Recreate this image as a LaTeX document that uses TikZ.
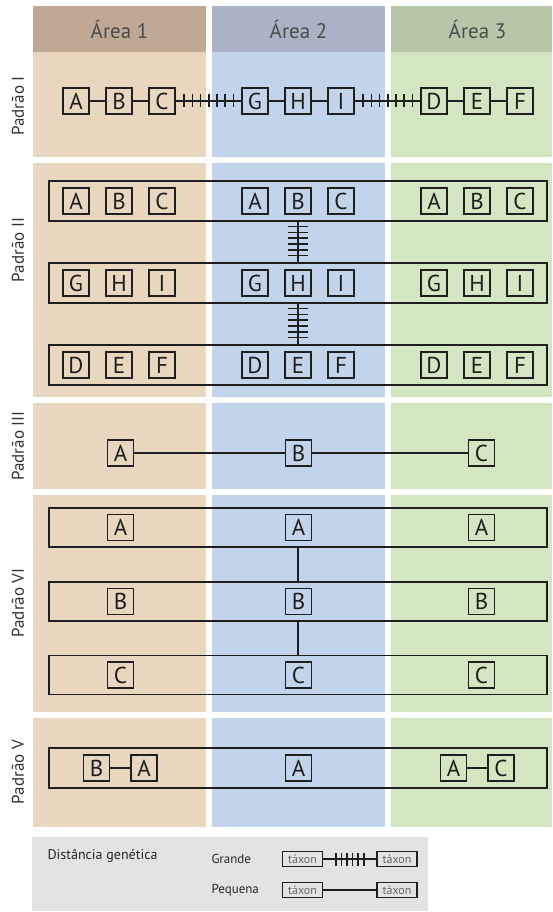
\documentclass[tikz,border=0pt]{standalone}
\usepackage{fontspec}
\setmainfont{PT Sans}
\usetikzlibrary{positioning,decorations.markings}

\definecolor{cab1}{HTML}{BFA994}
\definecolor{cab2}{HTML}{A9B3C5}
\definecolor{cab3}{HTML}{B5C6A9}
\definecolor{area1}{HTML}{E8D6BE}
\definecolor{area2}{HTML}{C2D4E9}
\definecolor{area3}{HTML}{D3E6C2}
\definecolor{legenda}{HTML}{E3E3E3}
\definecolor{tinta}{HTML}{1E1E1E}

\begin{document}
\begin{tikzpicture}[x=1pt, y=-1pt, node distance=43pt,
  taxon/.style={rectangle, draw=tinta, line width=1.2pt, minimum size=26pt, inner sep=0pt, text=tinta, font=\fontsize{23}{23}\selectfont},
  faixa/.style={rectangle, draw=tinta, line width=1.2pt, minimum width=498pt, minimum height=40pt},
  cabecalho/.style={rectangle, minimum width=173pt, minimum height=46pt, text=black!70, font=\fontsize{21}{21}\selectfont},
  padrao/.style={rotate=90, text=black!80, font=\fontsize{17}{17}\selectfont},
  liga/.style={draw=tinta, line width=1.2pt},
  marcas/.style={postaction={decorate, decoration={markings, mark=between positions #1 with {\draw[tinta, line width=1.6pt] (0,-6.5) -- (0,6.5);}}}},
  marcaslongas/.style={postaction={decorate, decoration={markings, mark=between positions #1 with {\draw[tinta, line width=1.6pt] (0,-10) -- (0,10);}}}},
  rotulo/.style={anchor=west, text=black!85, font=\fontsize{13}{13}\selectfont},
  taxonleg/.style={rectangle, draw=tinta, line width=1.1pt, minimum width=40pt, minimum height=15pt, inner sep=0pt, text=black!60, font=\fontsize{12}{12}\selectfont}]
\useasboundingbox (0,0) rectangle (552,912);
\clip (0,0) rectangle (552,912);

% Fundo - áreas
\fill[area1] (33,52) rectangle (206,827);
\fill[area2] (212,52) rectangle (385,827);
\fill[area3] (391,52) rectangle (552,827);
\fill[white] (0,157) rectangle (552,163);
\fill[white] (0,397) rectangle (552,403);
\fill[white] (0,489) rectangle (552,495);
\fill[white] (0,712) rectangle (552,718);

% Cabeçalhos
\node (area1) [cabecalho, fill=cab1] at (119.5,29) {Área 1};
\node (area2) [cabecalho, fill=cab2] at (298.5,29) {Área 2};
\node (area3) [cabecalho, fill=cab3] at (477.5,29) {Área 3};

% Padrão I
\node (lbl1) [padrao] at (18,106) {Padrão I};
\node (p1a) [taxon] at (76,101) {A};
\node (p1b) [taxon, right of=p1a] {B};
\node (p1c) [taxon, right of=p1b] {C};
\node (p1g) [taxon, right of=p1c, xshift=50pt] {G};
\node (p1h) [taxon, right of=p1g] {H};
\node (p1i) [taxon, right of=p1h] {I};
\node (p1d) [taxon, right of=p1i, xshift=50pt] {D};
\node (p1e) [taxon, right of=p1d] {E};
\node (p1f) [taxon, right of=p1e] {F};

\draw[liga] (p1a) -- (p1b);
\draw[liga] (p1b) -- (p1c);
\draw[liga, marcas={0.13 and 0.88 step 0.125}] (p1c) -- (p1g);
\draw[liga] (p1g) -- (p1h);
\draw[liga] (p1h) -- (p1i);
\draw[liga, marcas={0.13 and 0.88 step 0.125}] (p1i) -- (p1d);
\draw[liga] (p1d) -- (p1e);
\draw[liga] (p1e) -- (p1f);

% Padrão II
\node (lbl2) [padrao] at (18,250) {Padrão II};
\node (f2abc) [faixa] at (298,201) {};
\node (f2ghi) [faixa] at (298,283) {};
\node (f2def) [faixa] at (298,365) {};

\node (p2a1) [taxon] at (76,201) {A};
\node (p2b1) [taxon, right of=p2a1] {B};
\node (p2c1) [taxon, right of=p2b1] {C};
\node (p2a2) [taxon, right of=p2c1, xshift=50pt] {A};
\node (p2b2) [taxon, right of=p2a2] {B};
\node (p2c2) [taxon, right of=p2b2] {C};
\node (p2a3) [taxon, right of=p2c2, xshift=50pt] {A};
\node (p2b3) [taxon, right of=p2a3] {B};
\node (p2c3) [taxon, right of=p2b3] {C};

\node (p2g1) [taxon] at (76,283) {G};
\node (p2h1) [taxon, right of=p2g1] {H};
\node (p2i1) [taxon, right of=p2h1] {I};
\node (p2g2) [taxon, right of=p2i1, xshift=50pt] {G};
\node (p2h2) [taxon, right of=p2g2] {H};
\node (p2i2) [taxon, right of=p2h2] {I};
\node (p2g3) [taxon, right of=p2i2, xshift=50pt] {G};
\node (p2h3) [taxon, right of=p2g3] {H};
\node (p2i3) [taxon, right of=p2h3] {I};

\node (p2d1) [taxon] at (76,365) {D};
\node (p2e1) [taxon, right of=p2d1] {E};
\node (p2f1) [taxon, right of=p2e1] {F};
\node (p2d2) [taxon, right of=p2f1, xshift=50pt] {D};
\node (p2e2) [taxon, right of=p2d2] {E};
\node (p2f2) [taxon, right of=p2e2] {F};
\node (p2d3) [taxon, right of=p2f2, xshift=50pt] {D};
\node (p2e3) [taxon, right of=p2d3] {E};
\node (p2f3) [taxon, right of=p2e3] {F};

\draw[liga, marcaslongas={0.12 and 0.86 step 0.143}] (f2abc) -- (f2ghi);
\draw[liga, marcaslongas={0.12 and 0.86 step 0.143}] (f2ghi) -- (f2def);

% Padrão III
\node (lbl3) [padrao] at (18,446) {Padrão III};
\node (p3a) [taxon] at (120.5,453) {A};
\node (p3b) [taxon] at (298.5,453) {B};
\node (p3c) [taxon] at (481.5,453) {C};

\draw[liga] (p3a) -- (p3b);
\draw[liga] (p3b) -- (p3c);

% Padrão VI
\node (lbl6) [padrao] at (18,603) {Padrão VI};
\node (f6a) [faixa, minimum height=39pt] at (298,527.5) {};
\node (f6b) [faixa, minimum height=39pt] at (298,601.5) {};
\node (f6c) [faixa, minimum height=39pt] at (298,675) {};

\node (p6a1) [taxon] at (120.5,527.5) {A};
\node (p6a2) [taxon] at (298.5,527.5) {A};
\node (p6a3) [taxon] at (481.5,527.5) {A};
\node (p6b1) [taxon] at (120.5,601.5) {B};
\node (p6b2) [taxon] at (298.5,601.5) {B};
\node (p6b3) [taxon] at (481.5,601.5) {B};
\node (p6c1) [taxon] at (120.5,675) {C};
\node (p6c2) [taxon] at (298.5,675) {C};
\node (p6c3) [taxon] at (481.5,675) {C};

\draw[liga] (f6a) -- (f6b);
\draw[liga] (f6b) -- (f6c);

% Padrão V
\node (lbl5) [padrao] at (18,772) {Padrão V};
\node (f5) [faixa] at (298,768) {};
\node (p5b1) [taxon] at (96.5,768) {B};
\node (p5a1) [taxon, right of=p5b1, xshift=4.5pt] {A};
\node (p5a2) [taxon] at (298.5,768) {A};
\node (p5a3) [taxon] at (453.5,768) {A};
\node (p5c3) [taxon, right of=p5a3, xshift=4.5pt] {C};

\draw[liga] (p5b1) -- (p5a1);
\draw[liga] (p5a3) -- (p5c3);

% Legenda
\fill[legenda] (32,837) rectangle (428,911);
\node (titulo) [rotulo, font=\fontsize{14}{14}\selectfont] at (44,856) {Distância genética};
\node (grande) [rotulo] at (208,859) {Grande};
\node (pequena) [rotulo] at (208,890) {Pequena};

\node (t1) [taxonleg] at (302.5,859) {táxon};
\node (t2) [taxonleg, right of=t1, xshift=51.5pt] {táxon};
\node (t3) [taxonleg, below of=t1, yshift=12pt] {táxon};
\node (t4) [taxonleg, right of=t3, xshift=51.5pt] {táxon};

\draw[liga, marcas={0.24 and 0.77 step 0.105}] (t1) -- (t2);
\draw[liga] (t3) -- (t4);

\end{tikzpicture}
\end{document}
